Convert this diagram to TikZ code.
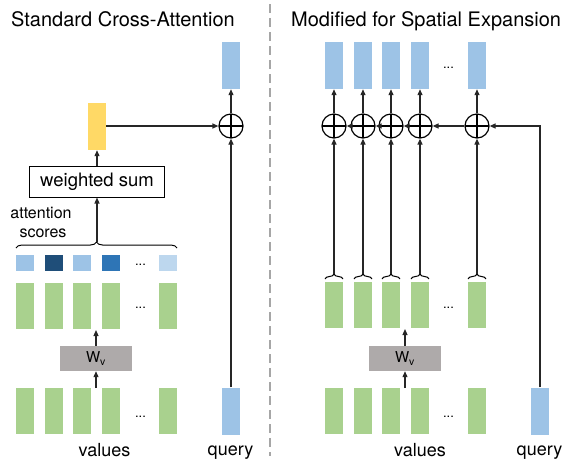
\documentclass[tikz,border=0pt]{standalone}
\usepackage{fontspec}
\setmainfont{TeX Gyre Heros}
\usetikzlibrary{arrows.meta,decorations.pathreplacing}
\definecolor{cgreen}{HTML}{A9D18E}
\definecolor{cblue}{HTML}{9DC3E6}
\definecolor{cyellow}{HTML}{FFD966}
\definecolor{cgray}{HTML}{AEAAAA}
\definecolor{scA}{HTML}{9DC3E6}
\definecolor{scB}{HTML}{1F4E79}
\definecolor{scC}{HTML}{2E75B6}
\definecolor{scD}{HTML}{BDD7EE}
\begin{document}
\begin{tikzpicture}[x=1pt,y=-1pt,
  gbar/.style={rectangle, inner sep=0pt, minimum width=18pt, minimum height=46pt, fill=cgreen},
  bbar/.style={rectangle, inner sep=0pt, minimum width=18pt, minimum height=47pt, fill=cblue},
  ybar/.style={rectangle, inner sep=0pt, minimum width=18pt, minimum height=47pt, fill=cyellow},
  score/.style={rectangle, inner sep=0pt, minimum width=18pt, minimum height=16pt},
  wbox/.style={rectangle, inner sep=0pt, minimum width=72pt, minimum height=25pt, fill=cgray, font={\fontsize{15}{18}\selectfont}},
  sumbox/.style={rectangle, draw, line width=1pt, inner sep=0pt, minimum width=135pt, minimum height=31pt, font={\fontsize{18.5}{22}\selectfont}},
  arr/.style={-{Triangle[length=6pt,width=5pt]}, line width=1.2pt, draw=black!85},
  plain/.style={line width=1.2pt, draw=black!85},
  pc/.style={circle, draw=black, line width=1.2pt, minimum size=24pt, inner sep=0pt,
    path picture={\draw[line width=1.2pt] (path picture bounding box.north) -- (path picture bounding box.south) (path picture bounding box.west) -- (path picture bounding box.east);}},
  bracestyle/.style={decorate, decoration={brace, amplitude=#1}, line width=1pt},
  titlefont/.style={font={\fontsize{20}{24}\selectfont}},
  lblfont/.style={font={\fontsize{18}{22}\selectfont}},
  dotsfont/.style={font={\fontsize{13}{15}\selectfont}},
  sep/.style={draw=black!35, line width=1.5pt, dash pattern=on 9pt off 5pt}
]
\useasboundingbox (0,0) rectangle (566,459);

% titles
\node[titlefont, anchor=base west, inner sep=0pt] (t1) at (11,26) {Standard Cross-Attention};
\node[titlefont, anchor=base west, inner sep=0pt] (t2) at (291,26) {Modified for Spatial Expansion};

% separator
\coordinate (septop) at (270,4);
\coordinate (sepbot) at (270,456);
\draw[sep] (septop) -- (sepbot);

% ---------------- left panel ----------------
\foreach \i/\x in {1/25,2/54,3/82,4/111,5/168} {
  \node[gbar] (lv\i) at (\x,411) {};
  \node[gbar] (lp\i) at (\x,306) {};
}
\foreach \i/\x/\c in {1/25/scA,2/54/scB,3/82/scA,4/111/scC,5/168/scD} {
  \node[score, fill=\c] (ls\i) at (\x,263) {};
}
\node[dotsfont, anchor=base] (ldv) at (140.5,417) {...};
\node[dotsfont, anchor=base] (ldp) at (140.5,308) {...};
\node[dotsfont, anchor=base] (lds) at (140.5,265) {...};

\node[wbox] (lw) at (96,358.5) {W\textsubscript{v}};
\coordinate (lvin) at (96,388);
\coordinate (lpin) at (96,330);
\draw[arr] (lvin) -- (lw);
\draw[arr] (lw) -- (lpin);

\draw[bracestyle=6pt] (16,248) -- (177,248);
\coordinate (lbt) at (97,242);
\node[sumbox] (ws) at (97,181.5) {weighted sum};
\draw[arr] (lbt) -- (ws);
\node[ybar] (yel) at (97,126.5) {};
\draw[arr] (ws) -- (yel);

\node[anchor=base, inner sep=0pt, font={\fontsize{16}{19}\selectfont}] (att1) at (41,218) {attention};
\node[anchor=base, inner sep=0pt, font={\fontsize{16}{19}\selectfont}] (att2) at (43,237) {scores};

\node[pc] (lc) at (231,126) {};
\draw[arr] (yel.east |- lc) -- (lc);
\node[bbar] (lq) at (231,411) {};
\node[bbar] (lo) at (231,65.5) {};
\draw[arr] (lq) -- (lc);
\draw[arr] (lc) -- (lo);

\node[lblfont, anchor=base, inner sep=0pt] (lvl) at (104.5,456) {values};
\node[lblfont, anchor=base, inner sep=0pt] (lql) at (230.5,455) {query};

% ---------------- right panel ----------------
\foreach \i/\x in {1/334,2/363,3/391,4/420,5/477} {
  \node[gbar] (rv\i) at (\x,411) {};
  \node[gbar] (rp\i) at (\x,305) {};
  \node[bbar] (ro\i) at (\x,65.5) {};
  \node[pc] (rc\i) at (\x,126) {};
  \draw[bracestyle=5pt] (\x-9,279) -- (\x+9,279);
  \coordinate (rbt\i) at (\x,274);
  \draw[arr] (rbt\i) -- (rc\i);
  \draw[arr] (rc\i) -- (ro\i);
}
\node[dotsfont, anchor=base] (rdv) at (448.5,417) {...};
\node[dotsfont, anchor=base] (rdp) at (448.5,308) {...};
\node[dotsfont, anchor=base] (rdo) at (448.5,68) {...};

\node[wbox] (rw) at (405,358.5) {W\textsubscript{v}};
\coordinate (rvin) at (405,388);
\coordinate (rpin) at (405,329);
\draw[arr] (rvin) -- (rw);
\draw[arr] (rw) -- (rpin);

\node[bbar] (rq) at (540,411) {};
\draw[arr] (rq) |- (rc5);
\draw[arr] (rc5) -- (rc4);
\draw[arr] (rc4) -- (rc3);
\draw[arr] (rc3) -- (rc2);
\draw[arr] (rc2) -- (rc1);

\node[lblfont, anchor=base, inner sep=0pt] (rvl) at (420,456) {values};
\node[lblfont, anchor=base, inner sep=0pt] (rql) at (539.5,455) {query};
\end{tikzpicture}
\end{document}
